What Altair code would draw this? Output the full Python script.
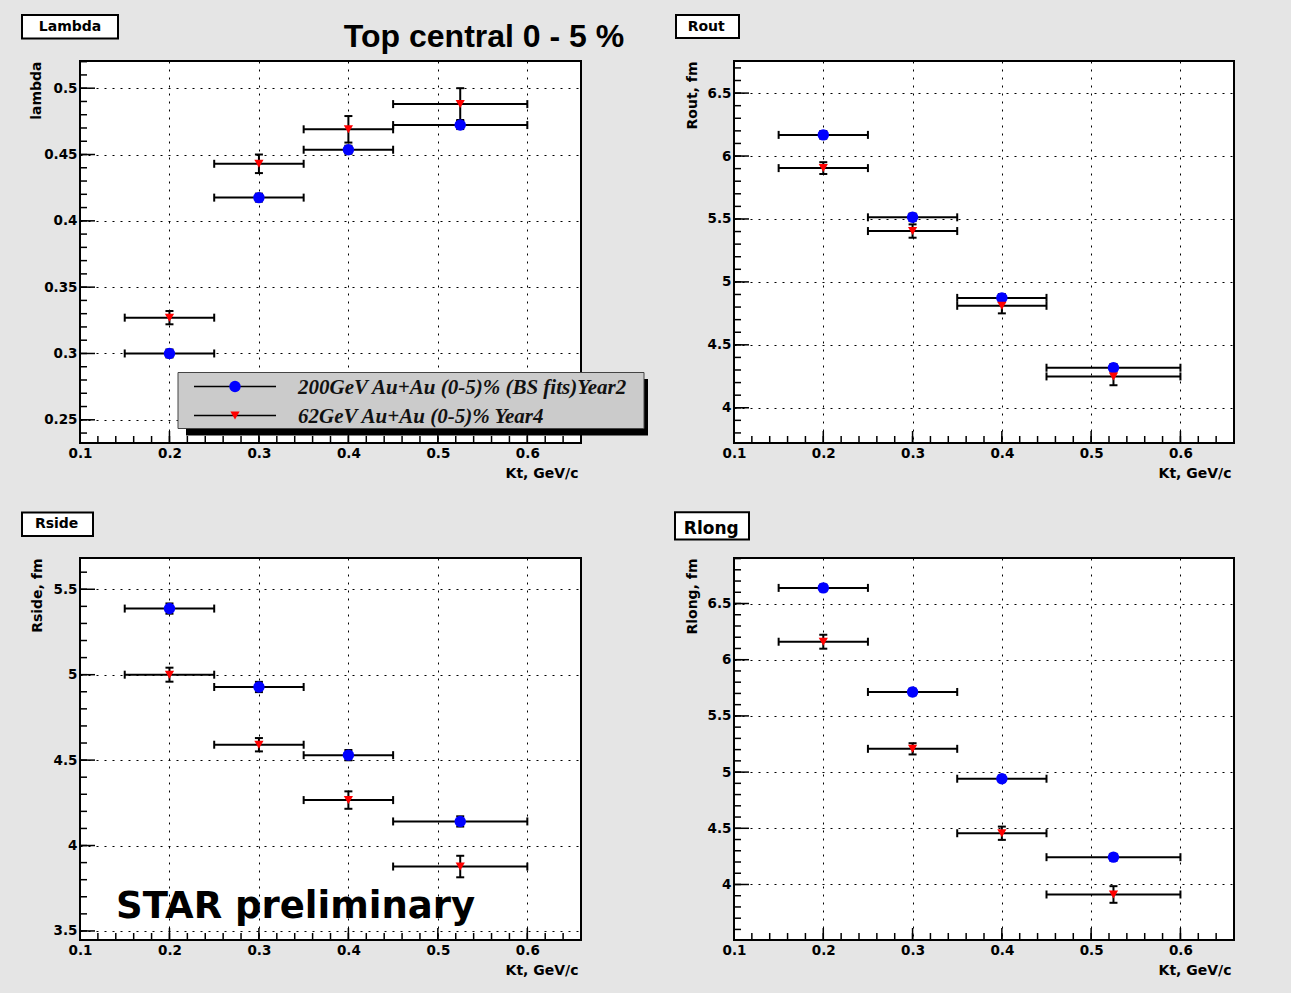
import altair as alt
import pandas as pd

# ---------------- data ----------------
kt = [0.2, 0.3, 0.4, 0.525]
kt_lo = [0.15, 0.25, 0.35, 0.45]
kt_hi = [0.25, 0.35, 0.45, 0.60]

series_keys = ["200", "62"]
series_names = ["200GeV Au+Au (0-5)% (BS fits)Year2", "62GeV Au+Au (0-5)% Year4"]
series_colors = ["#0000ff", "#ff0000"]
panel_names = ["Lambda", "Rout", "Rside", "Rlong"]
axis_titles = ["lambda", "Rout, fm", "Rside, fm", "Rlong, fm"]
x_title = "Kt, GeV/c"
main_title = ["Top central 0 - 5 %"]
watermark = ["STAR preliminary"]

lambda_200 = [0.300, 0.4175, 0.4536, 0.4722]
lambda_200_err = [0.003, 0.003, 0.003, 0.003]
lambda_62 = [0.327, 0.443, 0.469, 0.488]
lambda_62_err = [0.005, 0.007, 0.010, 0.012]

rout_200 = [6.168, 5.513, 4.873, 4.318]
rout_200_err = [0.03, 0.03, 0.03, 0.03]
rout_62 = [5.904, 5.404, 4.810, 4.249]
rout_62_err = [0.047, 0.053, 0.060, 0.070]

rside_200 = [5.387, 4.928, 4.529, 4.141]
rside_200_err = [0.03, 0.03, 0.03, 0.03]
rside_62 = [5.000, 4.590, 4.266, 3.877]
rside_62_err = [0.041, 0.039, 0.051, 0.063]

rlong_200 = [6.639, 5.713, 4.941, 4.243]
rlong_200_err = [0.03, 0.03, 0.03, 0.03]
rlong_62 = [6.160, 5.207, 4.456, 3.911]
rlong_62_err = [0.062, 0.050, 0.059, 0.074]

x_domain = [0.1, 0.66]
x_major = [0.1, 0.2, 0.3, 0.4, 0.5, 0.6]
x_minor = [round(0.1 + 0.02 * i, 3) for i in range(1, 28)]

lambda_domain = [0.2325, 0.5205]
lambda_major = [0.25, 0.3, 0.35, 0.4, 0.45, 0.5]
lambda_minor = [round(0.24 + 0.01 * i, 3) for i in range(0, 29)]

rout_domain = [3.72, 6.755]
rout_major = [4, 4.5, 5, 5.5, 6, 6.5]
rout_minor = [round(3.8 + 0.1 * i, 2) for i in range(0, 30)]

rside_domain = [3.447, 5.683]
rside_major = [3.5, 4, 4.5, 5, 5.5]
rside_minor = [round(3.5 + 0.1 * i, 2) for i in range(0, 22)]

rlong_domain = [3.506, 6.905]
rlong_major = [4, 4.5, 5, 5.5, 6, 6.5]
rlong_minor = [round(3.6 + 0.1 * i, 2) for i in range(0, 34)]

FONT = "DejaVu Sans"
H = 382
MARKER_SIZES = [130, 85]


def make_df(v200, e200, v62, e62):
    rows = []
    for key, vals, errs in ((series_keys[0], v200, e200), (series_keys[1], v62, e62)):
        for k, lo, hi, v, e in zip(kt, kt_lo, kt_hi, vals, errs):
            rows.append(dict(series=key, kt=k, lo=lo, hi=hi, val=v, err=e))
    return pd.DataFrame(rows)


def one(t):
    return alt.Chart(pd.DataFrame({"t": [t]}))


def panel(df, width, ydom, ymaj, ymin, ytitle, ytitle_x, name, box, extras):
    xs = alt.Scale(domain=x_domain, nice=False, zero=False)
    ys = alt.Scale(domain=ydom, nice=False, zero=False)
    common = dict(grid=True, gridColor="black", gridDash=[2, 6], gridWidth=1,
                  ticks=False, tickSize=0, domain=False,
                  labelFont=FONT, labelFontWeight="bold", labelFontSize=13.5,
                  labelColor="black", labelPadding=3, labelFlush=False,
                  labelOverlap=False,
                  titleFont=FONT, titleFontWeight="bold", titleFontSize=14,
                  titleColor="black")
    xaxis = alt.Axis(values=x_major, format="~g", title=x_title,
                     titleX=width - 3, titleY=30.5, titleAlign="right",
                     titleBaseline="middle", **common)
    yaxis = alt.Axis(values=ymaj, format="~g", title=ytitle,
                     titleX=ytitle_x, titleY=0, titleAlign="right",
                     titleAngle=270, titleBaseline="middle", **common)

    def X(f):
        return alt.X(f, type="quantitative", scale=xs, axis=xaxis)

    def Y(f):
        return alt.Y(f, type="quantitative", scale=ys, axis=yaxis)

    layers = []
    # inward ROOT-style ticks
    layers.append(alt.Chart(pd.DataFrame({"v": ymaj})).mark_rule(color="black", strokeWidth=1.5)
                  .encode(y=Y("v"), x=alt.value(0), x2=alt.value(15)))
    layers.append(alt.Chart(pd.DataFrame({"v": ymin})).mark_rule(color="black", strokeWidth=1.5)
                  .encode(y=Y("v"), x=alt.value(0), x2=alt.value(7)))
    layers.append(alt.Chart(pd.DataFrame({"v": x_major})).mark_rule(color="black", strokeWidth=1.5)
                  .encode(x=X("v"), y=alt.value(H), y2=alt.value(H - 12)))
    layers.append(alt.Chart(pd.DataFrame({"v": x_minor})).mark_rule(color="black", strokeWidth=1.5)
                  .encode(x=X("v"), y=alt.value(H), y2=alt.value(H - 7)))

    base = alt.Chart(df)
    layers.append(base.mark_rule(color="black", strokeWidth=2)
                  .encode(x=X("lo"), x2="hi:Q", y=Y("val")))
    for f in ("lo", "hi"):
        layers.append(base.mark_tick(orient="vertical", size=8, thickness=2, color="black", opacity=1)
                      .encode(x=X(f), y=Y("val")))
    eb = base.transform_calculate(ylo="datum.val - datum.err", yhi="datum.val + datum.err")
    layers.append(eb.mark_rule(color="black", strokeWidth=2)
                  .encode(x=X("kt"), y=Y("ylo"), y2="yhi:Q"))
    for f in ("ylo", "yhi"):
        layers.append(eb.mark_tick(orient="horizontal", size=8, thickness=2, color="black", opacity=1)
                      .encode(x=X("kt"), y=Y(f)))
    layers.append(base.mark_point(filled=True, opacity=1, strokeWidth=0)
                  .encode(x=X("kt"), y=Y("val"),
                          shape=alt.Shape("series:N", scale=alt.Scale(domain=series_keys, range=["circle", "triangle-down"]), legend=None),
                          color=alt.Color("series:N", scale=alt.Scale(domain=series_keys, range=series_colors), legend=None),
                          size=alt.Size("series:N", scale=alt.Scale(domain=series_keys, range=MARKER_SIZES), legend=None)))

    # title box
    x0, x1, y0, y1, cx, by, fs = box
    layers.append(one(name).mark_rect(fill="white", stroke="black", strokeWidth=2)
                  .encode(x=alt.value(x0), x2=alt.value(x1), y=alt.value(y0), y2=alt.value(y1)))
    layers.append(one(name).mark_text(font=FONT, fontWeight="bold", fontSize=fs, color="black",
                                      align="center", baseline="alphabetic")
                  .encode(text="t:N", x=alt.value(cx), y=alt.value(by)))
    layers.extend(extras)
    return alt.layer(*layers).properties(width=width, height=H)


# ---- extras for the lambda panel: big title and legend ----
tl_extras = [
    one(main_title[0]).mark_text(font="Liberation Sans", fontWeight="bold", fontSize=32, color="black",
                                 align="center", baseline="alphabetic")
    .encode(text="t:N", x=alt.value(404), y=alt.value(-14.5)),
    one("shadow").mark_rect(fill="black")
    .encode(x=alt.value(106), x2=alt.value(568), y=alt.value(318), y2=alt.value(374.5)),
    one("legend").mark_rect(fill="#cbcbcb", stroke="#444444", strokeWidth=1)
    .encode(x=alt.value(98), x2=alt.value(564), y=alt.value(311.5), y2=alt.value(367.5)),
]
for i, (yy, by) in enumerate(((325.5, 332.5), (354.5, 361.5))):
    tl_extras.append(one(series_names[i]).mark_rule(color="black", strokeWidth=1.5)
                     .encode(x=alt.value(114), x2=alt.value(196), y=alt.value(yy)))
    tl_extras.append(one(series_names[i]).mark_point(filled=True, opacity=1, strokeWidth=0,
                                                     shape=["circle", "triangle-down"][i],
                                                     size=MARKER_SIZES[i], color=series_colors[i])
                     .encode(x=alt.value(155), y=alt.value(yy)))
    tl_extras.append(one(series_names[i]).mark_text(font="Liberation Serif", fontWeight="bold",
                                                    fontStyle="italic", fontSize=21, color="#111111",
                                                    align="left", baseline="alphabetic")
                     .encode(text="t:N", x=alt.value(218), y=alt.value(by)))

bl_extras = [
    one(watermark[0]).mark_text(font="DejaVu Sans", fontWeight="bold", fontSize=37, color="black",
                                align="left", baseline="alphabetic")
    .encode(text="t:N", x=alt.value(36), y=alt.value(359.5)),
]

tl = panel(make_df(lambda_200, lambda_200_err, lambda_62, lambda_62_err), 501,
           lambda_domain, lambda_major, lambda_minor, axis_titles[0], -43.5, panel_names[0],
           (-58, 38, -46, -22.5, -10, -30.5, 14), tl_extras)
tr = panel(make_df(rout_200, rout_200_err, rout_62, rout_62_err), 500,
           rout_domain, rout_major, rout_minor, axis_titles[1], -42, panel_names[1],
           (-58, 5, -46, -23, -27.8, -30.3, 14), [])
bl = panel(make_df(rside_200, rside_200_err, rside_62, rside_62_err), 501,
           rside_domain, rside_major, rside_minor, axis_titles[2], -43, panel_names[2],
           (-58, 13, -45.4, -22, -23.4, -30.4, 14), bl_extras)
br = panel(make_df(rlong_200, rlong_200_err, rlong_62, rlong_62_err), 500,
           rlong_domain, rlong_major, rlong_minor, axis_titles[3], -41.5, panel_names[3],
           (-59, 15, -45.7, -18.5, -22.7, -24.4, 17), [])

chart = (alt.concat(tl, tr, bl, br, columns=2, spacing={"row": 115, "column": 153}, bounds="flush")
         .properties(padding={"left": 20, "top": 13, "right": 56, "bottom": 14},
                     background="#e5e5e5")
         .configure_view(stroke="black", strokeWidth=2, fill="white"))

chart.save("out.html", embed_options={"renderer": "svg", "actions": False})
